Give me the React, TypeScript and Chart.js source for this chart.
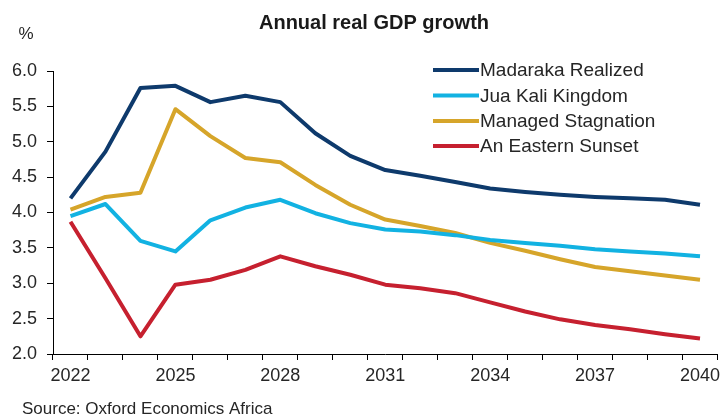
import React, { useEffect, useRef } from "react";
import { Chart, registerables } from "chart.js";

Chart.register(...registerables);

const years = [
  "2022", "2023", "2024", "2025", "2026", "2027", "2028", "2029", "2030", "2031",
  "2032", "2033", "2034", "2035", "2036", "2037", "2038", "2039", "2040",
];
const shownYears = ["2022", "2025", "2028", "2031", "2034", "2037", "2040"];

const madarakaRealized = [4.2, 4.86, 5.76, 5.79, 5.56, 5.65, 5.56, 5.12, 4.8, 4.6, 4.52, 4.43, 4.34, 4.29, 4.25, 4.22, 4.2, 4.18, 4.11];
const juaKaliKingdom = [3.95, 4.12, 3.6, 3.45, 3.89, 4.07, 4.18, 3.99, 3.85, 3.76, 3.73, 3.68, 3.61, 3.57, 3.53, 3.48, 3.45, 3.42, 3.38];
const managedStagnation = [4.04, 4.22, 4.28, 5.46, 5.08, 4.77, 4.71, 4.39, 4.11, 3.9, 3.81, 3.71, 3.57, 3.46, 3.34, 3.23, 3.17, 3.11, 3.05];
const easternSunset = [3.87, 3.07, 2.25, 2.98, 3.05, 3.19, 3.38, 3.24, 3.12, 2.98, 2.93, 2.86, 2.73, 2.6, 2.49, 2.41, 2.35, 2.28, 2.22];

const seriesNames = ["Madaraka Realized", "Jua Kali Kingdom", "Managed Stagnation", "An Eastern Sunset"];
const seriesColors = ["#0E3A6C", "#12B2E2", "#D6A52A", "#C6202F"];

const titleText = "Annual real GDP growth";
const unitText = "%";
const sourceText = "Source: Oxford Economics Africa";

const FONT = "'Liberation Sans', Arial, sans-serif";
const TEXT = "#262626";

export default function App() {
  const ref = useRef<HTMLCanvasElement>(null);

  useEffect(() => {
    if (!ref.current) return;
    const overlay = {
      id: "overlay",
      afterDraw(chart: any) {
        const ctx = chart.ctx;
        ctx.save();
        // Title
        ctx.fillStyle = "#1a1a1a";
        ctx.font = `bold 20px ${FONT}`;
        ctx.textAlign = "center";
        ctx.textBaseline = "middle";
        ctx.fillText(titleText, 374, 23);
        // unit
        ctx.fillStyle = TEXT;
        ctx.font = `17px ${FONT}`;
        ctx.fillText(unitText, 26, 34);
        // source
        ctx.textAlign = "left";
        ctx.font = `17px ${FONT}`;
        ctx.fillText(sourceText, 22, 409);
        // legend
        const rows = [70, 95.5, 121, 146];
        ctx.font = `19px ${FONT}`;
        chart.data.datasets.forEach((ds: any, i: number) => {
          const y = rows[i];
          ctx.strokeStyle = ds.borderColor;
          ctx.lineWidth = 4;
          ctx.lineCap = "butt";
          ctx.beginPath();
          ctx.moveTo(433, y);
          ctx.lineTo(479, y);
          ctx.stroke();
          ctx.fillStyle = TEXT;
          ctx.fillText(ds.label, 480, y + 1);
        });
        ctx.restore();
      },
    };

    const data = [madarakaRealized, juaKaliKingdom, managedStagnation, easternSunset];

    const chart = new Chart(ref.current, {
      type: "line",
      data: {
        labels: years,
        datasets: data.map((d, i) => ({
          label: seriesNames[i],
          data: d,
          borderColor: seriesColors[i],
          backgroundColor: seriesColors[i],
          borderWidth: 4,
          pointRadius: 0,
          pointHoverRadius: 0,
          tension: 0,
          borderJoinStyle: "round" as const,
          fill: false,
        })),
      },
      options: {
        responsive: false,
        animation: false,
        events: [],
        layout: { padding: { top: 71, right: 10.5, bottom: 23, left: 0 } },
        plugins: {
          legend: { display: false },
          title: { display: false },
          tooltip: { enabled: false },
        },
        scales: {
          x: {
            type: "category",
            offset: true,
            grid: {
              offset: true,
              drawOnChartArea: false,
              drawTicks: true,
              tickLength: 6,
              color: "#000",
              lineWidth: 1,
            },
            border: { color: "#000", width: 1 },
            ticks: {
              autoSkip: false,
              maxRotation: 0,
              padding: 5,
              color: TEXT,
              font: { family: FONT, size: 18 },
              callback: (_v: any, i: number) => (shownYears.includes(years[i]) ? years[i] : ""),
            },
            afterFit: (s: any) => {
              s.height = 40;
            },
          },
          y: {
            min: 2,
            max: 6,
            grid: {
              drawOnChartArea: false,
              drawTicks: true,
              tickLength: 6,
              color: "#000",
              lineWidth: 1,
            },
            border: { color: "#000", width: 1 },
            ticks: {
              stepSize: 0.5,
              padding: 10,
              color: TEXT,
              font: { family: FONT, size: 18 },
              callback: (v: any) => Number(v).toFixed(1),
            },
            afterFit: (s: any) => {
              s.width = 53;
            },
          },
        },
      },
      plugins: [overlay],
    });
    return () => chart.destroy();
  }, []);

  return (
    <div style={{ position: "absolute", left: 0, top: 0, width: 728, height: 417, background: "#fff" }}>
      <canvas ref={ref} width={728} height={417} style={{ display: "block" }} />
    </div>
  );
}
